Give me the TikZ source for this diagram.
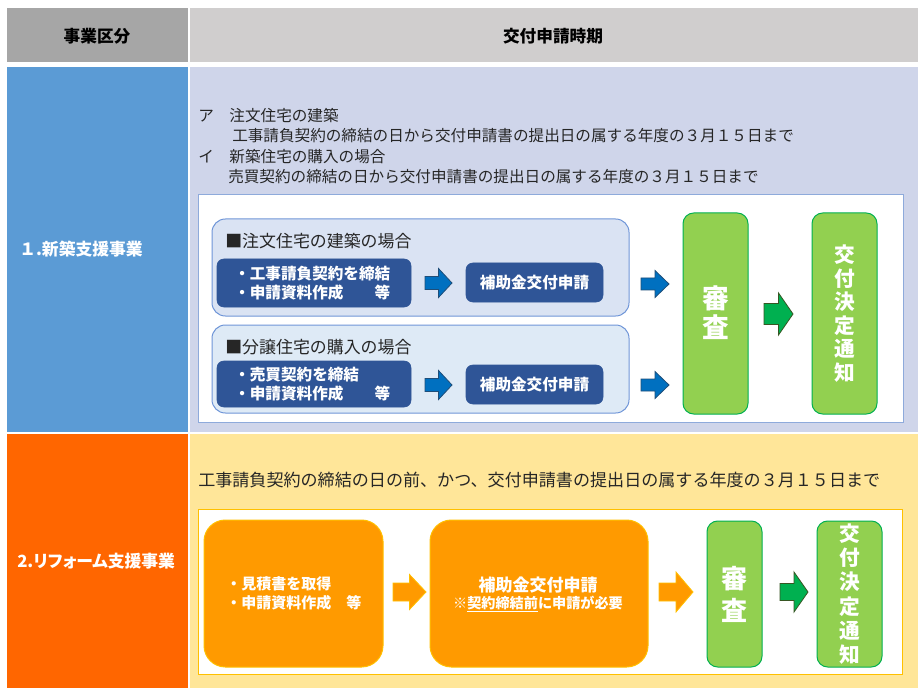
\documentclass[tikz,border=0pt]{standalone}
\usepackage{fontspec}
\setmainfont{Noto Sans CJK JP}
\newfontfamily\pfont[RawFeature=+palt]{Noto Sans CJK JP}
\definecolor{hdrL}{HTML}{A6A6A6}
\definecolor{hdrR}{HTML}{D0CECE}
\definecolor{rowAL}{HTML}{5B9BD5}
\definecolor{rowAR}{HTML}{CFD5EA}
\definecolor{rowBL}{HTML}{FF6600}
\definecolor{rowBR}{HTML}{FFE699}
\definecolor{wbBlue}{HTML}{8EAADB}
\definecolor{subA}{HTML}{DAE3F3}
\definecolor{subB}{HTML}{DEEAF6}
\definecolor{subBorder}{HTML}{7096D8}
\definecolor{darkblue}{HTML}{2F5597}
\definecolor{arrBlue}{HTML}{0070C0}
\definecolor{arrBlueB}{HTML}{1F4E79}
\definecolor{lgreen}{HTML}{92D050}
\definecolor{mgreen}{HTML}{00B050}
\definecolor{dgreen}{HTML}{375623}
\definecolor{orangeBox}{HTML}{FF9A00}
\definecolor{gold}{HTML}{FFC000}
\definecolor{textgray}{HTML}{262626}
\newcommand{\barrow}[6]{%
  \pgfmathsetmacro{\hx}{#2+0.5*(#3-#2)}%
  \draw[#1] (#2,{#4-#6}) -- (\hx,{#4-#6}) -- (\hx,{#4-#5}) -- (#3,#4) -- (\hx,{#4+#5}) -- (\hx,{#4+#6}) -- (#2,{#4+#6}) -- cycle;}
\tikzset{
  txt/.style={inner sep=0pt, anchor=west, text=textgray, font=\fontsize{11.7}{14}\selectfont},
  txtB/.style={inner sep=0pt, anchor=west, text=textgray, font=\fontsize{12.8}{15}\selectfont},
  hdr/.style={inner sep=0pt, text=black, font=\fontsize{12.5}{15}\selectfont\bfseries},
  lbl/.style={inner sep=0pt, anchor=west, text=white, font=\fontsize{12.6}{15}\selectfont\bfseries},
  subttl/.style={inner sep=0pt, anchor=west, text=textgray, font=\fontsize{12.7}{15}\selectfont},
  wtxt/.style={inner sep=0pt, text=white, font=\fontsize{11.7}{14.25}\selectfont\bfseries},
  darkbox/.style={fill=darkblue, draw=darkblue, rounded corners=5pt},
  subbox/.style={draw=subBorder, line width=0.75pt, rounded corners=10pt},
  greenbox/.style={fill=lgreen, draw=mgreen, line width=0.75pt, rounded corners=8pt},
  orbox/.style={fill=orangeBox, draw=gold, line width=0.75pt, rounded corners=16pt},
  barr/.style={fill=arrBlue, draw=arrBlueB, line width=0.6pt},
  garr/.style={fill=mgreen, draw=dgreen, line width=0.6pt},
  oarr/.style={fill=orangeBox, draw=gold, line width=0.6pt},
}
\begin{document}
\begin{tikzpicture}[x=0.75pt,y=-0.75pt]
\useasboundingbox (0,0) rectangle (923,698);
\fill[white] (0,0) rectangle (923,698);
% header
\fill[hdrL] (7,8) rectangle (188,62);
\fill[hdrR] (190,8) rectangle (918,62);
\node[hdr] (h1) at (97,36) {事業区分};
\node[hdr] (h2) at (553,36) {交付申請時期};
% row 1
\fill[rowAL] (7,67) rectangle (188,432);
\fill[rowAR] (190,67) rectangle (918,432);
\node[lbl] (l1) at (19,249) {１.新築支援事業};
\node[txt] (a1) at (198,116) {ア　注文住宅の建築};
\node[txt] (a2) at (232,136) {工事請負契約の締結の日から交付申請書の提出日の属する年度の３月１５日まで};
\node[txt] (a3) at (198,157) {イ　新築住宅の購入の場合};
\node[txt] (a4) at (228,177) {売買契約の締結の日から交付申請書の提出日の属する年度の３月１５日まで};
\draw[fill=white, draw=wbBlue, line width=0.75pt] (198,195) rectangle (903,422);
% sub box 1
\draw[subbox, fill=subA] (212,219) rectangle (629,316);
\node[subttl] (s1) at (225,241) {■注文住宅の建築の場合};
\draw[darkbox] (217,259) rectangle (411,307);
\node[wtxt, anchor=west, align=left] (d1) at (234,283) {・工事請負契約を締結\\・申請資料作成　　等};
\barrow{barr}{425}{452}{283}{14.5}{6.5}
\draw[darkbox] (466,263) rectangle (603,302);
\node[wtxt] (g1) at (534.5,282.5) {補助金交付申請};
% sub box 2
\draw[subbox, fill=subB] (212,325) rectangle (629,413);
\node[subttl] (s2) at (225,347) {■分譲住宅の購入の場合};
\draw[darkbox] (217,361) rectangle (411,407);
\node[wtxt, anchor=west, align=left] (d2) at (234,384) {・売買契約を締結\\・申請資料作成　　等};
\barrow{barr}{425}{452}{385}{14.5}{6.5}
\draw[darkbox] (466,365) rectangle (603,404);
\node[wtxt] (g2) at (534.5,384.5) {補助金交付申請};
% arrows to review
\barrow{barr}{641}{669}{284}{13.5}{6}
\barrow{barr}{641}{669}{385}{13.5}{6}
\draw[greenbox] (683,213) rectangle (748,414);
\node[inner sep=0pt, text=white, align=center, font=\fontsize{20}{21.75}\selectfont\bfseries] (r1) at (715.5,312.5) {審\\査};
\barrow{garr}{764}{793}{314}{21}{10.5}
\draw[greenbox] (812,213) rectangle (877,414);
\node[inner sep=0pt, text=white, align=center, font=\fontsize{15.5}{17.6}\selectfont\bfseries] (n1) at (844.5,313.5) {交\\付\\決\\定\\通\\知};
% row 2
\fill[rowBL] (7,434) rectangle (188,688);
\fill[rowBR] (190,434) rectangle (918,688);
\node[lbl, font=\fontsize{12.6}{15}\selectfont\bfseries\pfont] (l2) at (17,561) {2.リフォーム支援事業};
\node[txtB] (b1) at (198,480) {工事請負契約の締結の日の前、かつ、交付申請書の提出日の属する年度の３月１５日まで};
\draw[fill=white, draw=gold, line width=0.75pt] (198,509) rectangle (902,674);
\draw[orbox] (204,520) rectangle (383,667);
\node[inner sep=0pt, anchor=west, align=left, text=white, font=\fontsize{11.25}{14.25}\selectfont\bfseries] (o1) at (226,593.5) {・見積書を取得\\・申請資料作成　等};
\barrow{oarr}{393}{426}{592}{17.5}{9}
\draw[orbox] (430,520) rectangle (648,667);
\node[inner sep=0pt, text=white, font=\fontsize{12.75}{15}\selectfont\bfseries] (o2) at (538,585) {補助金交付申請};
\node[inner sep=0pt, text=white, font=\fontsize{10.6}{13}\selectfont\bfseries] (o3) at (538,604) {※\underline{契約締結前}に申請が必要};
\barrow{oarr}{659}{693}{592}{20}{9}
\draw[greenbox] (707,521) rectangle (762,667);
\node[inner sep=0pt, text=white, align=center, font=\fontsize{19.5}{24}\selectfont\bfseries] (r2) at (734.5,594) {審\\査};
\barrow{garr}{780}{808}{592}{20}{8.5}
\draw[greenbox] (817,521) rectangle (882,667);
\node[inner sep=0pt, text=white, align=center, font=\fontsize{15.5}{18.2}\selectfont\bfseries] (n2) at (849.5,594) {交\\付\\決\\定\\通\\知};
\end{tikzpicture}
\end{document}
